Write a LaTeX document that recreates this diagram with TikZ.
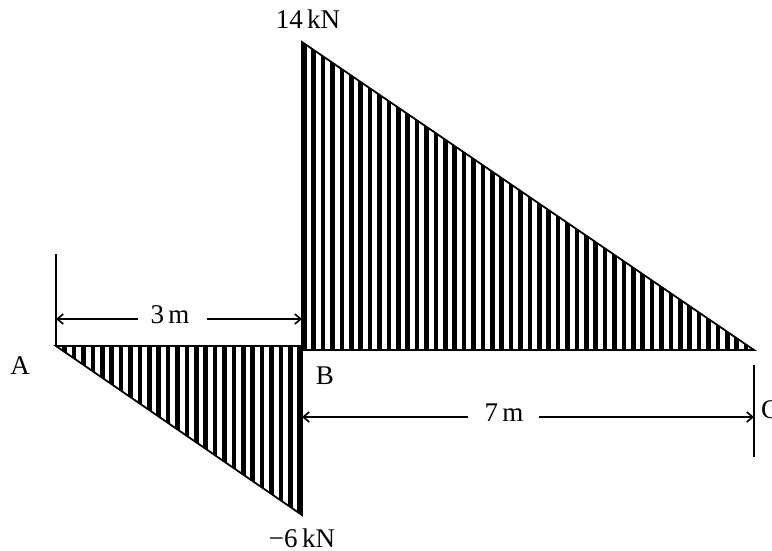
\documentclass[tikz,border=0pt]{standalone}
\usepackage{fontspec}
\setmainfont{Liberation Serif}
\usetikzlibrary{arrows.meta}
\begin{document}
\begin{tikzpicture}[x=1pt,y=-1pt,
 outline/.style={line width=1.8pt, line join=miter},
 stripe/.style={line width=4.6pt},
 dim/.style={line width=1.6pt},
 dimarrow/.style={dim,-{Straight Barb[length=6pt,width=10pt]}},
 lbl/.style={font=\fontsize{27}{30}\selectfont, inner sep=0pt},
]
\useasboundingbox (0,0) rectangle (772,550);
% key points
\coordinate (A) at (56,346);
\coordinate (B1) at (302,346);
\coordinate (D) at (302,515);
\coordinate (B2) at (302,350);
\coordinate (E) at (302,42);
\coordinate (C) at (754,350);
% hatching of negative part
\begin{scope}
  \clip (A) -- (B1) -- (D) -- cycle;
  \foreach \i in {0,...,27} {
    \draw[stripe] ({302-2.3-\i*9.4},340) -- ++(0,185);
  }
\end{scope}
% hatching of positive part
\begin{scope}
  \clip (B2) -- (E) -- (C) -- cycle;
  \foreach \i in {0,...,49} {
    \draw[stripe] ({302+2.3+\i*9.4},38) -- ++(0,316);
  }
\end{scope}
\draw[outline] (A) -- (B1) -- (D) -- cycle;
\draw[outline] (B2) -- (E) -- (C) -- cycle;
% extension lines
\coordinate (AT) at (56,254);
\draw[dim] (AT) -- (A);
\coordinate (CT) at (754,365);
\coordinate (CB) at (754,457);
\draw[dim] (CT) -- (CB);
% 3 m dimension
\node[lbl] (l3) at (170,315) {3\,m};
\coordinate (d3a) at (56,319);
\coordinate (d3b) at (302,319);
\coordinate (g3a) at (138,319);
\coordinate (g3b) at (207,319);
\draw[dimarrow] (g3a) -- (d3a);
\draw[dimarrow] (g3b) -- (d3b);
% 7 m dimension
\node[lbl] (l7) at (504,413) {7\,m};
\coordinate (d7a) at (302,417);
\coordinate (d7b) at (754,417);
\coordinate (g7a) at (468,417);
\coordinate (g7b) at (539,417);
\draw[dimarrow] (g7a) -- (d7a);
\draw[dimarrow] (g7b) -- (d7b);
% labels
\node[lbl] (la) at (20,366) {A};
\node[lbl] (lb) at (325,376) {B};
\node[lbl, anchor=west] (lc) at (761,410) {C};
\node[lbl] (l14) at (308,19) {14\,kN};
\node[lbl] (l6) at (302,538) {−6\,kN};
\end{tikzpicture}
\end{document}
